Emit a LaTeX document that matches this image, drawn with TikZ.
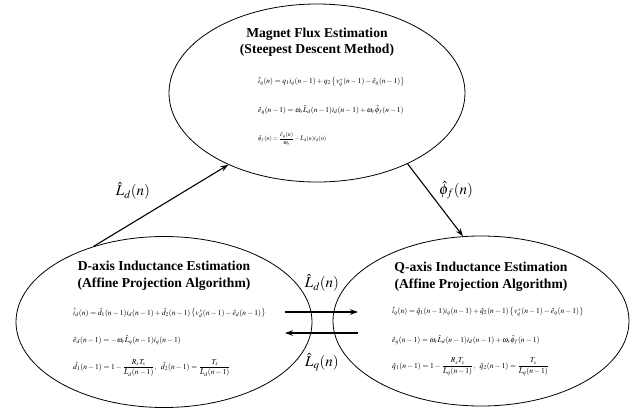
\documentclass[tikz,border=0pt]{standalone}
\usepackage{amsmath}
\usepackage{mathptmx}
\usepackage{fontspec}
\setmainfont{Liberation Serif}
\usetikzlibrary{shapes.geometric,arrows.meta,calc}
\begin{document}
\begin{tikzpicture}[x=1pt,y=-1pt,
  est/.style={draw,ellipse,line width=0.8pt,inner sep=0pt},
  ttl/.style={font=\fontsize{13.6}{16.5}\selectfont\bfseries,align=center},
  eqn/.style={anchor=west,inner sep=0pt,font=\fontsize{7.5}{9}\selectfont},
  eqb/.style={anchor=west,inner sep=0pt,font=\fontsize{7.6}{9}\selectfont},
  eqs/.style={anchor=west,inner sep=0pt,font=\fontsize{5.9}{7}\selectfont},
  lbl/.style={font=\fontsize{15}{17}\selectfont},
  arr/.style={-{Stealth[length=8pt,width=5.5pt]},line width=1.1pt}]
\useasboundingbox (0,0) rectangle (641,408);
\node[est,minimum width=296pt,minimum height=178pt] (top) at (317,93) {};
\node[est,minimum width=296pt,minimum height=171pt] (dl) at (164,322) {};
\node[est,minimum width=296pt,minimum height=170pt] (qr) at (481,321) {};
% titles
\node[ttl] (tt) at (317,42) {Magnet Flux Estimation\\(Steepest Descent Method)};
\node[ttl] (dt) at (164,276) {D-axis Inductance Estimation\\(Affine Projection Algorithm)};
\node[ttl] (qt) at (481,277) {Q-axis Inductance Estimation\\(Affine Projection Algorithm)};
% top equations
\node[eqn] (te1) at (258,82) {$\hat{i}_q(n)=q_1 i_q(n-1)+q_2\left\{v_q^{\,*}(n-1)-\hat{e}_q(n-1)\right\}$};
\node[eqn] (te2) at (258,110) {$\hat{e}_q(n-1)=\omega_r\hat{L}_d(n-1)i_d(n-1)+\omega_r\hat{\phi}_f(n-1)$};
\node[eqs] (te3) at (258,139) {$\hat{\phi}_f(n)=\dfrac{\hat{e}_q(n)}{\omega_r}-\hat{L}_d(n)i_d(n)$};
% d-axis equations
\node[eqb] (de1) at (73,313) {$\hat{i}_d(n)=\hat{d}_1(n-1)i_d(n-1)+\hat{d}_2(n-1)\left\{v_d^{\,*}(n-1)-\hat{e}_d(n-1)\right\}$};
\node[eqb] (de2) at (73,340) {$\hat{e}_d(n-1)=-\omega_r\hat{L}_q(n-1)i_q(n-1)$};
\node[eqb] (de3) at (73,368) {$\hat{d}_1(n-1)=1-\dfrac{R_sT_s}{\hat{L}_d(n-1)},\;\;\hat{d}_2(n-1)=\dfrac{T_s}{\hat{L}_d(n-1)}$};
% q-axis equations
\node[eqb] (qe1) at (392,312) {$\hat{i}_q(n)=\hat{q}_1(n-1)i_q(n-1)+\hat{q}_2(n-1)\left\{v_q^{\,*}(n-1)-\hat{e}_q(n-1)\right\}$};
\node[eqb] (qe2) at (392,340) {$\hat{e}_q(n-1)=\omega_r\hat{L}_d(n-1)i_d(n-1)+\omega_r\hat{\phi}_f(n-1)$};
\node[eqb] (qe3) at (392,367) {$\hat{q}_1(n-1)=1-\dfrac{R_sT_s}{\hat{L}_q(n-1)},\;\;\hat{q}_2(n-1)=\dfrac{T_s}{\hat{L}_q(n-1)}$};
% connectors
\draw[arr] (dl.133) -- (top.219);
\draw[arr] (top.-38) -- (qr.102);
\coordinate (a1s) at (285,312);
\coordinate (a1e) at (358,312);
\coordinate (a2s) at (358,333);
\coordinate (a2e) at (285,333);
\draw[arr] (a1s) -- (a1e);
\draw[arr] (a2s) -- (a2e);
% labels
\node[lbl] (l1) at (133,191) {$\hat{L}_d(n)$};
\node[lbl] (l2) at (456,190) {$\hat{\phi}_f(n)$};
\node[lbl] (l3) at (322,283) {$\hat{L}_d(n)$};
\node[lbl] (l4) at (322,362) {$\hat{L}_q(n)$};
\end{tikzpicture}
\end{document}
